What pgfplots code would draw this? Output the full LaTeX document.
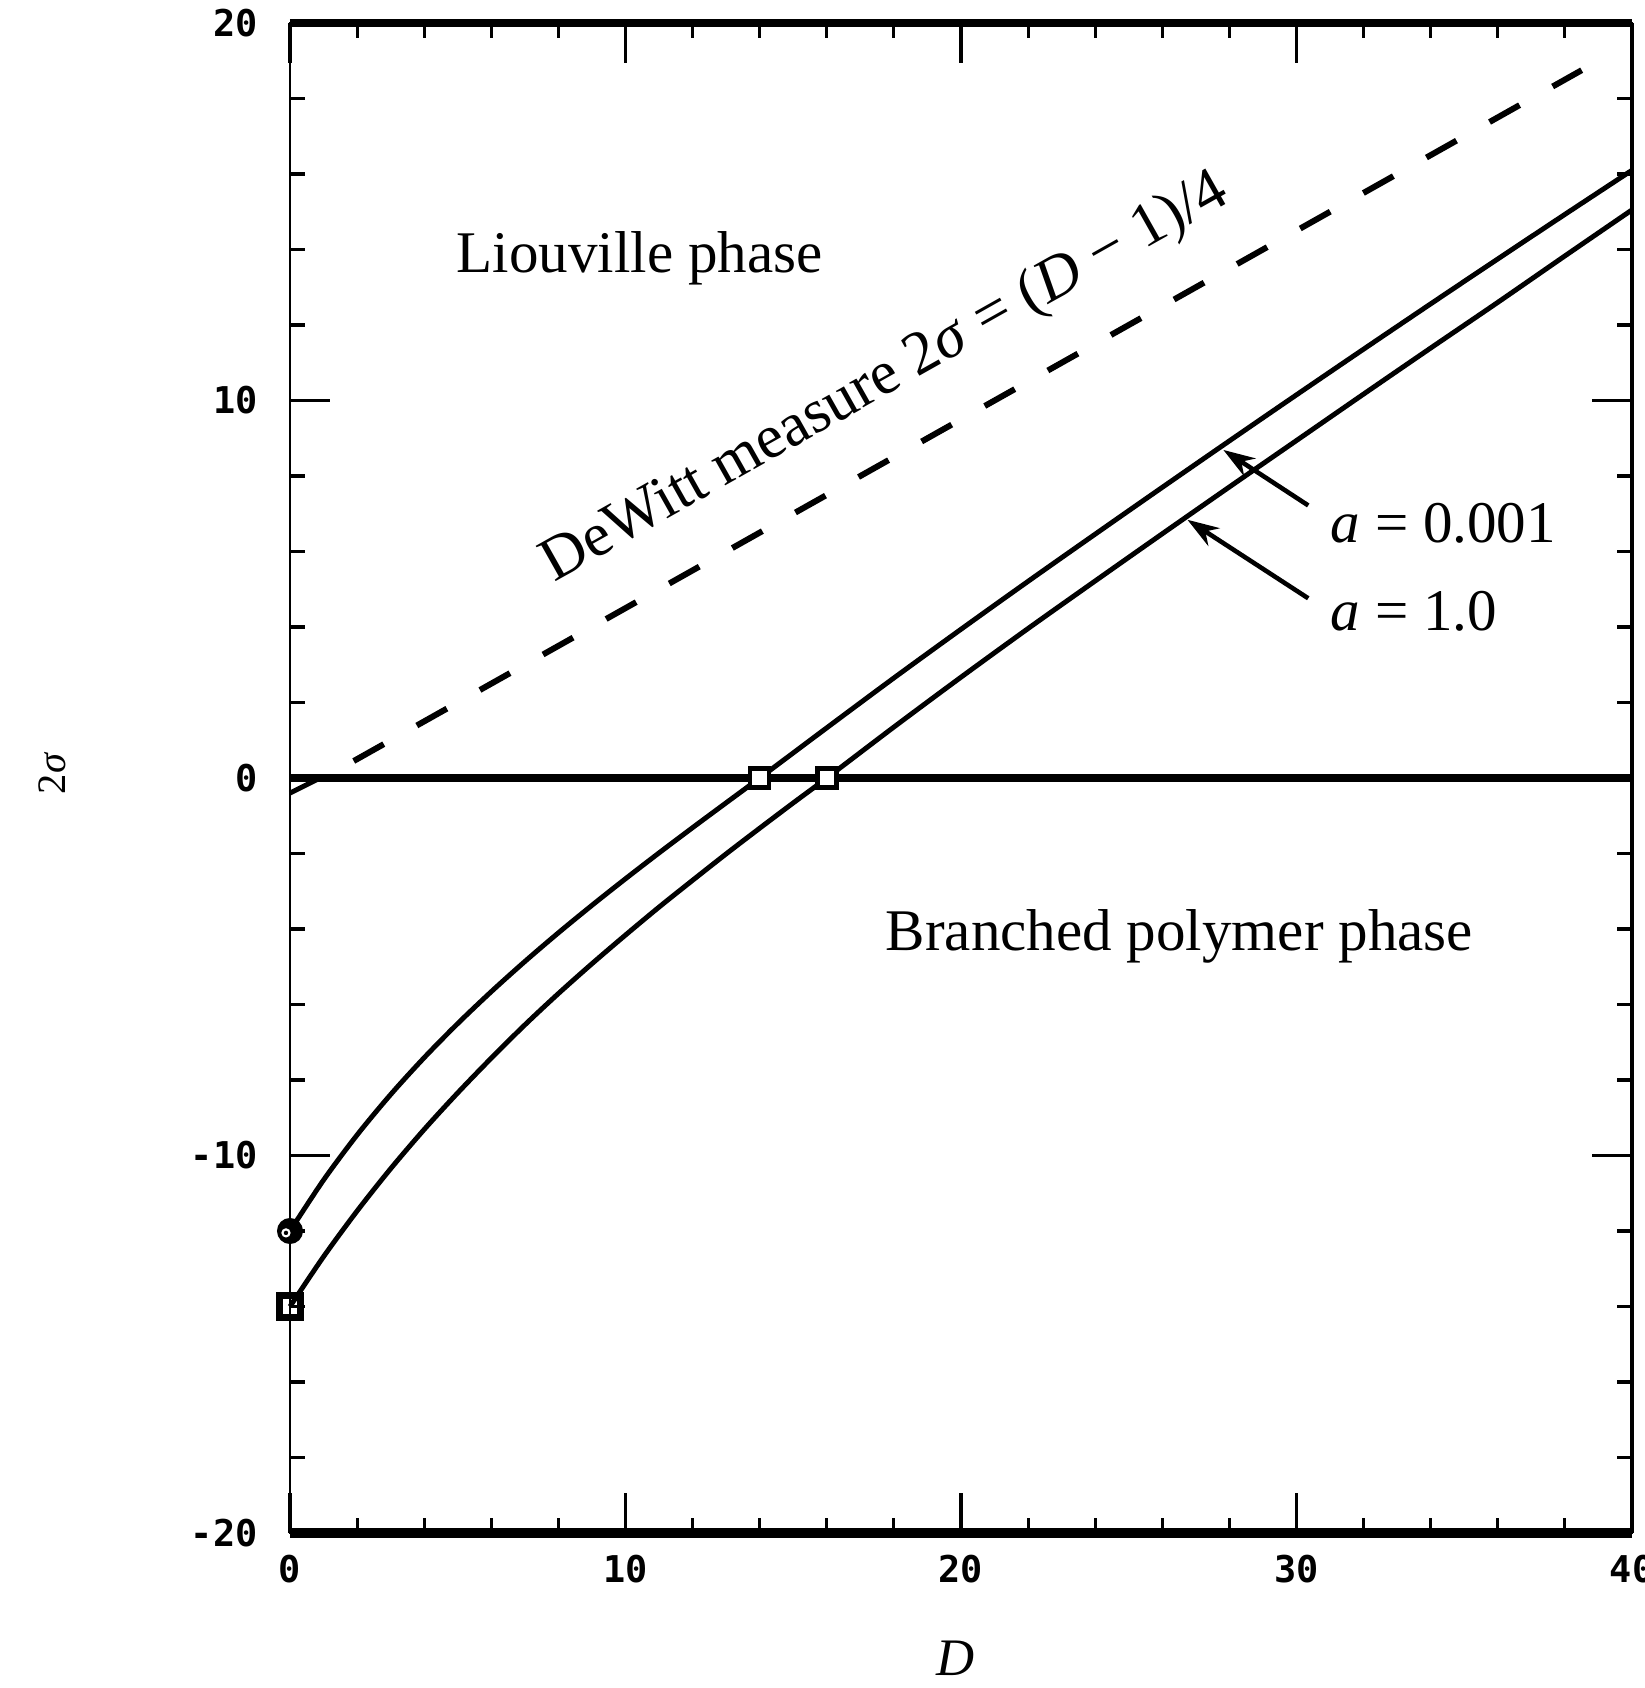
\documentclass[border=0pt]{standalone}
\usepackage{fontspec}
\setmainfont{Liberation Serif}
\newfontfamily\tickfont{DejaVu Sans Mono}
\usepackage{pgfplots}
\pgfplotsset{compat=1.18}
\usetikzlibrary{arrows.meta}

\begin{document}
\begin{tikzpicture}
\useasboundingbox (0,0) rectangle (16.44cm,16.88cm);
\begin{axis}[
  at={(2.90cm,1.55cm)}, anchor=south west,
  scale only axis, width=13.42cm, height=15.10cm,
  xmin=0, xmax=40, ymin=-20, ymax=20,
  xtick={0,10,20,30,40}, xticklabels={0,10,20,30,40},
  ytick={-20,-10,0,10,20}, yticklabels={-20,-10,0,10,20},
  minor x tick num=4, minor y tick num=4,
  tick align=inside,
  major tick length=0.4cm, minor tick length=0.15cm,
  major tick style={line width=1.1pt, black},
  minor tick style={line width=0.9pt, black},
  axis line style={line width=0.8pt},
  ticklabel style={font=\tickfont\bfseries\fontsize{10.5}{12}\selectfont},
  xticklabel style={yshift=-0.1cm},
  yticklabel style={xshift=-0.2cm},
  clip=false,
  xlabel={\textit{D}}, ylabel={2\textit{σ}},
  xlabel style={at={(axis description cs:0.496,-0.0828)}, anchor=center, font=\fontsize{15}{18}\selectfont},
  ylabel style={at={(axis description cs:-0.1773,0.503)}, anchor=center, font=\fontsize{11.5}{14}\selectfont},
]
% zero line
\addplot[line width=2.5pt] coordinates {(0,0) (40,0)};
\addplot[line width=1.4pt] coordinates {(0,-0.4) (0.9,0)};
% DeWitt line
\addplot[line width=1.7pt, dash pattern=on 9.8pt off 10.8pt] coordinates {(1.9,0.45) (38.5,18.75)};
% a = 0.001
\addplot[line width=1.4pt, smooth] coordinates {
(0,-12) (1,-10.65) (2,-9.456) (3,-8.385) (4,-7.408) (5,-6.504) (6,-5.659) (7,-4.861)
(8,-4.101) (9,-3.373) (10,-2.669) (11,-1.984) (12,-1.315) (13,-0.657) (14,0)
(16,1.33) (18,2.65) (20,3.94) (22,5.21) (24,6.46) (26,7.70) (28,8.93)
(30,10.15) (32,11.36) (34,12.56) (36,13.75) (38,14.93) (40,16.1)};
% a = 1.0
\addplot[line width=1.4pt, smooth] coordinates {
(0,-14) (1,-12.68) (2,-11.47) (3,-10.35) (4,-9.31) (5,-8.34) (6,-7.42) (7,-6.54)
(8,-5.71) (9,-4.92) (10,-4.16) (11,-3.42) (12,-2.71) (13,-2.01) (14,-1.33) (15,-0.66) (16,0)
(18,1.35) (20,2.67) (22,3.96) (24,5.22) (26,6.47) (28,7.71) (30,8.94)
(32,10.17) (34,11.39) (36,12.6) (38,13.83) (40,15.05)};
% markers
\addplot[only marks, mark=*, mark options={fill=black}, mark size=3.2pt, line width=1pt] coordinates {(0,-12)};
\addplot[only marks, mark=o, mark options={fill=white}, mark size=1pt, line width=0.6pt, draw=white] coordinates {(-0.12,-12.05)};
\addplot[only marks, mark=square, mark size=3pt, line width=2pt] coordinates {(0,-14)};
\addplot[only marks, mark=square*, mark options={fill=white}, mark size=2.7pt, line width=1.3pt] coordinates {(14,0) (16,0)};
% frame
\draw[line width=2.6pt] (rel axis cs:0,0) -- (rel axis cs:1,0);
\draw[line width=2.2pt] (rel axis cs:0,1) -- (rel axis cs:1,1);
\draw[line width=1.1pt] (rel axis cs:1,0) -- (rel axis cs:1,1);
% text
\node[font=\fontsize{16.8}{20}\selectfont] at (axis cs:10.42,13.77) {Liouville phase};
\node[font=\fontsize{16.8}{20}\selectfont] at (axis cs:26.51,-4.19) {Branched polymer phase};
\node[font=\fontsize{17.6}{21}\selectfont, rotate=29.4] at (axis cs:17.76,10.58) {DeWitt measure 2\textit{σ} = (\textit{D} − 1)/4};
\node[font=\fontsize{16.8}{20}\selectfont, anchor=west, inner sep=0pt] at (axis cs:31.0,6.75) {\textit{a} = 0.001};
\node[font=\fontsize{16.8}{20}\selectfont, anchor=west, inner sep=0pt] at (axis cs:31.0,4.41) {\textit{a} = 1.0};
\draw[line width=1.3pt, -{Stealth[length=9pt,width=6pt]}] (axis cs:30.35,7.22) -- (axis cs:27.82,8.69);
\draw[line width=1.3pt, -{Stealth[length=9pt,width=6pt]}] (axis cs:30.35,4.76) -- (axis cs:26.75,6.84);
\end{axis}
\end{tikzpicture}
\end{document}
